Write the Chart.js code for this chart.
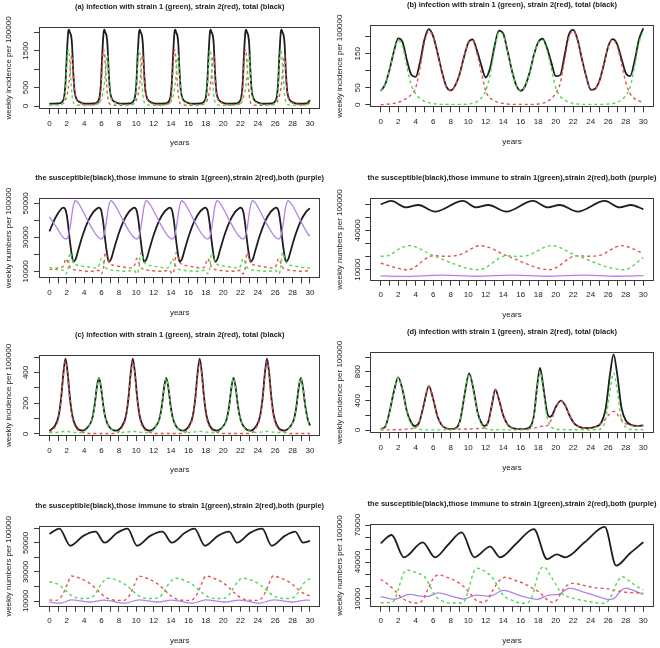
<!DOCTYPE html>
<html><head><meta charset="utf-8">
<script src="https://cdn.jsdelivr.net/npm/chart.js"></script>
<style>
html,body{margin:0;padding:0;background:#fff;}
#wrap{position:relative;width:660px;height:648px;overflow:hidden;background:#fff;}
#wrap canvas{position:absolute;}
</style>
</head><body>
<div id="wrap">
<canvas id="cA" width="330" height="162" style="left:0px;top:0px"></canvas>
<canvas id="cB" width="330" height="162" style="left:330px;top:0px"></canvas>
<canvas id="cSA" width="330" height="162" style="left:0px;top:162px"></canvas>
<canvas id="cSB" width="330" height="162" style="left:330px;top:162px"></canvas>
<canvas id="cC" width="330" height="162" style="left:0px;top:324px"></canvas>
<canvas id="cD" width="330" height="162" style="left:330px;top:324px"></canvas>
<canvas id="cSC" width="330" height="162" style="left:0px;top:486px"></canvas>
<canvas id="cSD" width="330" height="162" style="left:330px;top:486px"></canvas>
</div>
<script>
// ---------- shared x axis ----------
const xTicks = [0,1,2,3,4,5,6,7,8,9,10,11,12,13,14,15,16,17,18,19,20,21,22,23,24,25,26,27,28,29,30];
const xTickLabels = ['0','','2','','4','','6','','8','','10','','12','','14','','16','','18','','20','','22','','24','','26','','28','','30'];

// ---------- panel (a): incidence ----------
const yearsA = [0, 0.5,
 1.05, 1.45, 1.7, 1.85, 2.0, 2.15, 2.25, 2.35, 2.5, 2.6, 2.75, 2.9, 3.1, 3.55, 4.15,
 5.13, 5.53, 5.78, 5.93, 6.08, 6.23, 6.33, 6.43, 6.58, 6.68, 6.83, 6.98, 7.18, 7.63, 8.23,
 9.21, 9.61, 9.86, 10.01, 10.16, 10.31, 10.41, 10.51, 10.66, 10.76, 10.91, 11.06, 11.26, 11.71, 12.31,
 13.29, 13.69, 13.94, 14.09, 14.24, 14.39, 14.49, 14.59, 14.74, 14.84, 14.99, 15.14, 15.34, 15.79, 16.39,
 17.37, 17.77, 18.02, 18.17, 18.32, 18.47, 18.57, 18.67, 18.82, 18.92, 19.07, 19.22, 19.42, 19.87, 20.47,
 21.45, 21.85, 22.1, 22.25, 22.4, 22.55, 22.65, 22.75, 22.9, 23.0, 23.15, 23.3, 23.5, 23.95, 24.55,
 25.53, 25.93, 26.18, 26.33, 26.48, 26.63, 26.73, 26.83, 26.98, 27.08, 27.23, 27.38, 27.58, 28.03, 28.63,
 29.6, 30];
const strain1A = [25, 27,
 30, 55, 160, 450, 1100, 1530, 1450, 1150, 600, 300, 100, 50, 30, 22, 20,
 38, 55, 90, 160, 280, 450, 620, 850, 1300, 1380, 800, 350, 170, 80, 42,
 30, 55, 160, 450, 1100, 1530, 1450, 1150, 600, 300, 100, 50, 30, 22, 20,
 38, 55, 90, 160, 280, 450, 620, 850, 1300, 1380, 800, 350, 170, 80, 42,
 30, 55, 160, 450, 1100, 1530, 1450, 1150, 600, 300, 100, 50, 30, 22, 20,
 38, 55, 90, 160, 280, 450, 620, 850, 1300, 1380, 800, 350, 170, 80, 42,
 30, 55, 160, 450, 1100, 1530, 1450, 1150, 600, 300, 100, 50, 30, 22, 20,
 38, 70];
const strain2A = [35, 36,
 38, 55, 90, 160, 280, 450, 620, 850, 1300, 1380, 800, 350, 170, 80, 42,
 30, 55, 160, 450, 1100, 1530, 1450, 1150, 600, 300, 100, 50, 30, 22, 20,
 38, 55, 90, 160, 280, 450, 620, 850, 1300, 1380, 800, 350, 170, 80, 42,
 30, 55, 160, 450, 1100, 1530, 1450, 1150, 600, 300, 100, 50, 30, 22, 20,
 38, 55, 90, 160, 280, 450, 620, 850, 1300, 1380, 800, 350, 170, 80, 42,
 30, 55, 160, 450, 1100, 1530, 1450, 1150, 600, 300, 100, 50, 30, 22, 20,
 38, 55, 90, 160, 280, 450, 620, 850, 1300, 1380, 800, 350, 170, 80, 42,
 30, 90];
const totalA = [60, 63,
 68, 110, 250, 610, 1380, 1980, 2070, 2000, 1900, 1680, 900, 400, 200, 102, 62,
 68, 110, 250, 610, 1380, 1980, 2070, 2000, 1900, 1680, 900, 400, 200, 102, 62,
 68, 110, 250, 610, 1380, 1980, 2070, 2000, 1900, 1680, 900, 400, 200, 102, 62,
 68, 110, 250, 610, 1380, 1980, 2070, 2000, 1900, 1680, 900, 400, 200, 102, 62,
 68, 110, 250, 610, 1380, 1980, 2070, 2000, 1900, 1680, 900, 400, 200, 102, 62,
 68, 110, 250, 610, 1380, 1980, 2070, 2000, 1900, 1680, 900, 400, 200, 102, 62,
 68, 110, 250, 610, 1380, 1980, 2070, 2000, 1900, 1680, 900, 400, 200, 102, 62,
 68, 160];
const yTicksA = [0, 500, 1000, 1500, 2000];
const yLabelsA = ['0', '500', '', '1500', ''];

// ---------- panel (b): incidence ----------
const yearsB = [0,0.5,1,1.5,2,2.5,3,3.5,4,4.5,5,5.5,6,6.5,7,7.5,8,8.5,9,9.5,10,10.5,11,11.5,12,12.5,13,13.5,14,14.5,15,15.5,16,16.5,17,17.5,18,18.5,19,19.5,20,20.5,21,21.5,22,22.5,23,23.5,24,24.5,25,25.5,26,26.5,27,27.5,28,28.5,29,29.5,30];
const strain1B = [40,58,100,152,188,172,110,58,32,18,10,6,3,2,1,1,1,1,1,1,2,4,9,20,40,88,160,212,205,155,98,55,40,54,92,145,182,190,158,105,50,25,14,8,4,2,1,1,1,1,1,1,2,3,7,14,27,52,110,180,218];
const strain2B = [0,1,2,4,7,12,20,30,50,108,182,216,198,150,95,52,41,55,88,138,180,188,150,95,40,20,11,6,4,2,1,1,1,1,1,1,2,4,9,18,34,62,130,198,216,188,132,80,43,46,70,118,170,190,172,122,66,32,18,11,7];
const totalB = [40,59,102,156,195,184,130,88,82,126,192,222,201,152,96,53,42,56,89,139,182,192,159,115,80,108,171,218,209,157,99,56,41,55,93,146,184,194,167,123,84,87,144,206,220,190,133,81,44,47,71,119,172,193,179,136,93,84,128,191,225];
const yTicksB = [0, 50, 100, 150, 200];
const yLabelsB = ['0', '50', '', '150', ''];

// ---------- row 2 left: classes for (a) ----------
const yearsSA = [0, 0.8,
 1.6, 1.9, 2.15, 2.35, 2.55, 2.75, 3.0, 3.35, 3.85, 4.45, 5.05, 5.45,
 5.68, 5.98, 6.23, 6.43, 6.63, 6.83, 7.08, 7.43, 7.93, 8.53, 9.13, 9.53,
 9.76, 10.06, 10.31, 10.51, 10.71, 10.91, 11.16, 11.51, 12.01, 12.61, 13.21, 13.61,
 13.84, 14.14, 14.39, 14.59, 14.79, 14.99, 15.24, 15.59, 16.09, 16.69, 17.29, 17.69,
 17.92, 18.22, 18.47, 18.67, 18.87, 19.07, 19.32, 19.67, 20.17, 20.77, 21.37, 21.77,
 22.0, 22.3, 22.55, 22.75, 22.95, 23.15, 23.4, 23.75, 24.25, 24.85, 25.45, 25.85,
 26.08, 26.38, 26.63, 26.83, 27.03, 27.23, 27.48, 27.83, 28.33, 28.93, 29.53, 29.93,
 30];
const suscSA = [33500, 42500,
 47500, 45500, 37500, 28000, 20500, 15600, 17000, 23000, 31500, 39500, 44800, 46800,
 47500, 45500, 37500, 28000, 20500, 15600, 17000, 23000, 31500, 39500, 44800, 46800,
 47500, 45500, 37500, 28000, 20500, 15600, 17000, 23000, 31500, 39500, 44800, 46800,
 47500, 45500, 37500, 28000, 20500, 15600, 17000, 23000, 31500, 39500, 44800, 46800,
 47500, 45500, 37500, 28000, 20500, 15600, 17000, 23000, 31500, 39500, 44800, 46800,
 47500, 45500, 37500, 28000, 20500, 15600, 17000, 23000, 31500, 39500, 44800, 46800,
 47500, 45500, 37500, 28000, 20500, 15600, 17000, 23000, 31500, 39500, 44800, 46800,
 47000];
const bothSA = [42000, 36000,
 29800, 29000, 30500, 35000, 42000, 48500, 51500, 50000, 45500, 39500, 34000, 31000,
 29800, 29000, 30500, 35000, 42000, 48500, 51500, 50000, 45500, 39500, 34000, 31000,
 29800, 29000, 30500, 35000, 42000, 48500, 51500, 50000, 45500, 39500, 34000, 31000,
 29800, 29000, 30500, 35000, 42000, 48500, 51500, 50000, 45500, 39500, 34000, 31000,
 29800, 29000, 30500, 35000, 42000, 48500, 51500, 50000, 45500, 39500, 34000, 31000,
 29800, 29000, 30500, 35000, 42000, 48500, 51500, 50000, 45500, 39500, 34000, 31000,
 29800, 29000, 30500, 35000, 42000, 48500, 51500, 50000, 45500, 39500, 34000, 31000,
 31500];
const imm1SA = [12500, 11000,
 10500, 8500, 12000, 21000, 18500, 15500, 14000, 13500, 13000, 12500, 12000, 12000,
 13000, 17500, 15000, 12500, 11500, 11000, 10800, 10500, 10300, 10000, 10200, 10500,
 10500, 8500, 12000, 21000, 18500, 15500, 14000, 13500, 13000, 12500, 12000, 12000,
 13000, 17500, 15000, 12500, 11500, 11000, 10800, 10500, 10300, 10000, 10200, 10500,
 10500, 8500, 12000, 21000, 18500, 15500, 14000, 13500, 13000, 12500, 12000, 12000,
 13000, 17500, 15000, 12500, 11500, 11000, 10800, 10500, 10300, 10000, 10200, 10500,
 10500, 8500, 12000, 21000, 18500, 15500, 14000, 13500, 13000, 12500, 12000, 12000,
 12200];
const imm2SA = [11000, 11800,
 13000, 17500, 15000, 12500, 11500, 11000, 10800, 10500, 10300, 10000, 10200, 10500,
 10500, 8500, 12000, 21000, 18500, 15500, 14000, 13500, 13000, 12500, 12000, 12000,
 13000, 17500, 15000, 12500, 11500, 11000, 10800, 10500, 10300, 10000, 10200, 10500,
 10500, 8500, 12000, 21000, 18500, 15500, 14000, 13500, 13000, 12500, 12000, 12000,
 13000, 17500, 15000, 12500, 11500, 11000, 10800, 10500, 10300, 10000, 10200, 10500,
 10500, 8500, 12000, 21000, 18500, 15500, 14000, 13500, 13000, 12500, 12000, 12000,
 13000, 17500, 15000, 12500, 11500, 11000, 10800, 10500, 10300, 10000, 10200, 10500,
 10500];
const yTicksSA = [10000, 20000, 30000, 40000, 50000];
const yLabelsSA = ['10000', '', '30000', '', '50000'];

// ---------- row 2 right: classes for (b) ----------
const yearsSuscSB = [0, 1.2, 2.9, 4.3, 6.2, 9.4, 10.9, 12.3, 14.35, 17.4, 19.1, 20.45, 22.5, 25.6, 27.3, 28.6, 30];
const suscSB = [60000, 62600, 57700, 59500, 54400, 62600, 57700, 59500, 54400, 62600, 57700, 59500, 54400, 62600, 57700, 59500, 56200];
const yearsImm1SB = [0, 0.8, 2.0, 3.3, 6.0, 11.2, 14.4, 15.5, 16.8, 19.5, 22.4, 27.8, 30];
const imm1SB = [20300, 20600, 25500, 28400, 20800, 10000, 20700, 20200, 21000, 28400, 20700, 10000, 19200];
const yearsImm2SB = [0, 3.1, 6.0, 7.2, 8.8, 11.4, 14.4, 19.3, 22.4, 23.6, 25.0, 27.5, 30];
const imm2SB = [14900, 10000, 20700, 20300, 21000, 28400, 20700, 10000, 20700, 20300, 21000, 28400, 22500];
const yearsBothSB = [0, 2.5, 7.0, 11, 15, 19, 23.2, 27, 30];
const bothSB = [5200, 4900, 5800, 5000, 5800, 5000, 5800, 5000, 5400];
const yTicksSB = [10000, 20000, 30000, 40000, 50000, 60000];
const yLabelsSB = ['10000', '', '', '40000', '', ''];

// ---------- panel (c): incidence ----------
const yearsC = [0,
 0.65, 1.05, 1.35, 1.6, 1.85, 2.1, 2.35, 2.65, 3.05, 3.78,
 4.5, 4.9, 5.2, 5.45, 5.7, 5.95, 6.2, 6.5, 6.9, 7.65,
 8.4, 8.8, 9.1, 9.35, 9.6, 9.85, 10.1, 10.4, 10.8, 11.52,
 12.25, 12.65, 12.95, 13.2, 13.45, 13.7, 13.95, 14.25, 14.65, 15.38,
 16.1, 16.5, 16.8, 17.05, 17.3, 17.55, 17.8, 18.1, 18.5, 19.25,
 20.0, 20.4, 20.7, 20.95, 21.2, 21.45, 21.7, 22.0, 22.4, 23.12,
 23.85, 24.25, 24.55, 24.8, 25.05, 25.3, 25.55, 25.85, 26.25, 27.0,
 27.75, 28.15, 28.45, 28.7, 28.95, 29.2, 29.45, 29.75, 30];
const totalC = [20,
 55, 115, 235, 390, 490, 395, 240, 115, 50, 22,
 50, 95, 185, 300, 365, 300, 185, 95, 45, 21,
 55, 115, 235, 390, 490, 395, 240, 115, 50, 22,
 50, 95, 185, 300, 365, 300, 185, 95, 45, 21,
 55, 115, 235, 390, 490, 395, 240, 115, 50, 22,
 50, 95, 185, 300, 365, 300, 185, 95, 45, 21,
 55, 115, 235, 390, 490, 395, 240, 115, 50, 22,
 50, 95, 185, 300, 365, 300, 185, 95, 55];
const strain1C = [10,
 10, 12, 14, 16, 17, 16, 14, 12, 10, 9,
 47, 92, 182, 297, 362, 297, 182, 92, 42, 17,
 10, 12, 14, 16, 17, 16, 14, 12, 10, 9,
 47, 92, 182, 297, 362, 297, 182, 92, 42, 17,
 10, 12, 14, 16, 17, 16, 14, 12, 10, 9,
 47, 92, 182, 297, 362, 297, 182, 92, 42, 17,
 10, 12, 14, 16, 17, 16, 14, 12, 10, 9,
 47, 92, 182, 297, 362, 297, 182, 92, 52];
const strain2C = [10,
 45, 103, 221, 374, 473, 379, 226, 103, 40, 13,
 3, 3, 3, 3, 3, 3, 3, 3, 3, 4,
 45, 103, 221, 374, 473, 379, 226, 103, 40, 13,
 3, 3, 3, 3, 3, 3, 3, 3, 3, 4,
 45, 103, 221, 374, 473, 379, 226, 103, 40, 13,
 3, 3, 3, 3, 3, 3, 3, 3, 3, 4,
 45, 103, 221, 374, 473, 379, 226, 103, 40, 13,
 3, 3, 3, 3, 3, 3, 3, 3, 3];
const yTicksC = [0, 100, 200, 300, 400, 500];
const yLabelsC = ['0', '', '200', '', '400', ''];

// ---------- panel (d): incidence ----------
const yearsTotalD = [0, 0.5, 1.0, 1.5, 2.0, 2.5, 3.0, 3.5, 3.9, 4.4, 4.9, 5.5, 6.0, 6.5, 7.0, 7.5, 8.0, 8.6, 9.1, 9.6, 10.1, 10.6, 11.1, 11.6, 11.9, 12.3, 12.7, 13.1, 13.5, 14.0, 14.5, 15.0, 15.7, 16.5, 17.0, 17.5, 17.9, 18.2, 18.55, 19.0, 19.3, 19.6, 20.0, 20.6, 21.1, 21.6, 22.1, 22.7, 23.5, 24.5, 25.2, 25.7, 26.2, 26.6, 27.0, 27.5, 28.0, 28.6, 29.3, 30];
const totalD = [17, 42, 244, 524, 721, 547, 252, 100, 53, 105, 333, 602, 422, 182, 62, 24, 13, 27, 144, 496, 776, 556, 226, 77, 57, 118, 343, 555, 421, 201, 76, 29, 12, 16, 34, 195, 630, 852, 615, 245, 180, 205, 315, 402, 332, 192, 92, 43, 25, 43, 100, 290, 765, 1036, 780, 310, 130, 71, 58, 63];
const yearsS1D = [0, 0.5, 1.0, 1.5, 2.0, 2.5, 3.0, 3.5, 4.0, 4.5, 5.5, 8.0, 8.6, 9.1, 9.6, 10.1, 10.6, 11.1, 11.6, 11.9, 12.4, 13.0, 16.5, 17.0, 17.5, 17.9, 18.2, 18.55, 19.0, 19.4, 20.0, 20.7, 24.5, 25.2, 25.7, 26.2, 26.6, 27.0, 27.5, 28.0, 28.6, 30];
const strain1D = [15, 40, 240, 520, 713, 540, 240, 80, 25, 8, 2, 2, 15, 130, 480, 760, 540, 210, 55, 25, 8, 3, 2, 15, 170, 590, 805, 560, 180, 55, 15, 5, 3, 20, 150, 540, 781, 560, 150, 40, 8, 3];
const yearsS2D = [0, 2.0, 3.0, 3.9, 4.4, 4.9, 5.5, 6.0, 6.5, 7.0, 7.5, 8.2, 9.5, 10.5, 11.3, 11.9, 12.3, 12.7, 13.1, 13.5, 14.0, 14.5, 15.0, 15.7, 16.5, 17.5, 18.3, 19.0, 19.5, 20.0, 20.6, 21.1, 21.6, 22.1, 22.7, 23.5, 24.5, 25.3, 26.0, 26.6, 27.2, 27.8, 28.5, 29.3, 30];
const strain2D = [2, 4, 12, 28, 100, 330, 600, 420, 180, 60, 22, 10, 12, 16, 22, 32, 110, 340, 552, 420, 200, 75, 28, 10, 14, 25, 50, 60, 140, 300, 397, 330, 190, 90, 40, 22, 40, 100, 200, 255, 190, 100, 65, 55, 60];
const yTicksD = [0, 200, 400, 600, 800, 1000];
const yLabelsD = ['0', '', '400', '', '800', ''];

// ---------- row 4 left: classes for (c) ----------
const yearsSuscSC = [0, 1.15, 2.4, 3.9, 5.3, 6.35, 7.8, 9.0, 10.1, 11.6, 13.0, 14.1, 15.6, 16.7, 17.9, 19.4, 20.7, 21.6, 23.1, 24.5, 25.6, 27.1, 28.3, 29.2, 30];
const suscSC = [56200, 59900, 48100, 54900, 57800, 50200, 57000, 59900, 48100, 54900, 57800, 50200, 57000, 59900, 48100, 54900, 57800, 50200, 57000, 59900, 48100, 54900, 57800, 50200, 51400];
const yearsImm1SC = [0, 1.0, 1.8, 2.6, 3.3, 4.0, 4.5, 5.0, 5.5, 6.0, 6.75, 7.7, 8.7, 9.5, 10.3, 11.0, 11.7, 12.25, 12.75, 13.25, 13.75, 14.5, 15.45, 16.45, 17.25, 18.05, 18.75, 19.45, 20.0, 20.5, 21.0, 21.5, 22.25, 23.2, 24.2, 25.0, 25.8, 26.5, 27.2, 27.75, 28.25, 28.75, 29.25, 30];
const imm1SC = [23300, 21500, 17500, 13500, 12000, 11700, 11800, 13000, 17000, 22000, 25700, 24500, 21500, 17500, 13500, 12000, 11700, 11800, 13000, 17000, 22000, 25700, 24500, 21500, 17500, 13500, 12000, 11700, 11800, 13000, 17000, 22000, 25700, 24500, 21500, 17500, 13500, 12000, 11700, 11800, 13000, 17000, 22000, 25500];
const yearsImm2SC = [0, 0.75, 1.25, 1.65, 2.05, 2.55, 3.55, 4.55, 5.35, 6.15, 6.85, 7.65, 8.5, 9.0, 9.4, 9.8, 10.3, 11.3, 12.3, 13.1, 13.9, 14.6, 15.4, 16.2, 16.7, 17.1, 17.5, 18.0, 19.0, 20.0, 20.8, 21.6, 22.3, 23.1, 23.95, 24.45, 24.85, 25.25, 25.75, 26.75, 27.75, 28.55, 29.35, 30];
const imm2SC = [10700, 10400, 12000, 16000, 21500, 27200, 25500, 22500, 18500, 14000, 11500, 10500, 10400, 12000, 16000, 21500, 27200, 25500, 22500, 18500, 14000, 11500, 10500, 10400, 12000, 16000, 21500, 27200, 25500, 22500, 18500, 14000, 11500, 10500, 10400, 12000, 16000, 21500, 27200, 25500, 22500, 18500, 15000, 13500];
const yearsBothSC = [0, 1.3, 2.5, 4.6, 6.3, 8.7, 10.3, 12.4, 14.1, 16.5, 18.0, 20.1, 21.9, 24.2, 25.8, 27.9, 29.6, 30];
const bothSC = [9200, 8500, 10800, 9300, 10600, 8500, 10800, 9300, 10600, 8500, 10800, 9300, 10600, 8500, 10800, 9300, 10600, 10500];
const yTicksSC = [10000, 20000, 30000, 40000, 50000, 60000];
const yLabelsSC = ['10000', '', '30000', '', '50000', ''];

// ---------- row 4 right: classes for (d) ----------
const yearsSuscSD = [0, 1.25, 2.65, 4.8, 6.2, 7.7, 9.25, 10.7, 12.5, 13.65, 15.5, 17.5, 19.0, 20.1, 21.1, 23.3, 25.6, 26.9, 28.4, 30];
const suscSD = [55200, 61900, 43800, 56000, 43800, 54000, 64000, 43800, 52500, 43800, 55000, 66700, 42400, 46200, 43800, 56000, 68500, 37000, 46500, 56000];
const yearsImm1SD = [0, 1.0, 1.6, 2.1, 2.6, 3.0, 4.0, 5.0, 5.6, 6.2, 7.0, 8.0, 9.3, 9.7, 10.2, 10.6, 11.0, 12.0, 12.8, 13.4, 14.0, 15.0, 16.2, 16.9, 17.4, 17.9, 18.4, 18.7, 19.3, 20.0, 20.6, 21.5, 23.0, 24.5, 25.4, 26.0, 26.5, 27.0, 27.6, 28.5, 29.3, 30];
const imm1SD = [7000, 7200, 9500, 20000, 30500, 33500, 31500, 28000, 21000, 13000, 8500, 6700, 6800, 10000, 22000, 31500, 34900, 32000, 27000, 20000, 13000, 9000, 6500, 7500, 14000, 28000, 35500, 36000, 30000, 22000, 15000, 11500, 9000, 7000, 6500, 8500, 15000, 23500, 28100, 24000, 20000, 17500];
const yearsImm2SD = [0, 0.8, 1.6, 2.4, 3.2, 4.2, 4.8, 5.4, 6.0, 6.6, 7.6, 8.6, 9.5, 10.2, 10.9, 11.6, 12.2, 12.8, 13.5, 14.2, 15.2, 16.3, 17.3, 18.2, 19.0, 19.6, 20.1, 20.6, 21.2, 22.0, 23.2, 24.6, 26.0, 26.8, 27.5, 28.5, 30];
const imm2SD = [26000, 22000, 17000, 11000, 7800, 6700, 9000, 18000, 26500, 29500, 27500, 24500, 20000, 14500, 9000, 7200, 9500, 17000, 24500, 27600, 25500, 22700, 19000, 15000, 9500, 7300, 9000, 15000, 20500, 22700, 21000, 19000, 18200, 17000, 16000, 15200, 14800];
const yearsBothSD = [0, 1.6, 3.3, 4.6, 5.4, 6.5, 8.0, 9.5, 10.9, 12.5, 14.0, 16.0, 17.9, 19.2, 20.3, 21.6, 23.0, 24.5, 26.1, 26.7, 27.4, 28.0, 29.0, 30];
const bothSD = [11900, 9800, 13700, 12300, 12100, 15000, 12500, 10000, 13200, 12300, 17000, 12500, 9700, 13200, 13700, 18800, 16000, 12800, 9700, 10500, 16500, 18800, 16500, 13800];
const yTicksSD = [10000, 20000, 30000, 40000, 50000, 60000, 70000];
const yLabelsSD = ['10000', '', '', '40000', '', '', '70000'];

// ---------- texts ----------
const titleInf = s => s + ' infection with strain 1 (green), strain 2(red), total (black)';
const titleClasses = 'the susceptible(black),those immune to strain 1(green),strain 2(red),both (purple)';
const ylabInc = 'weekly incidence per 100000';
const ylabNum = 'weekly numbers per 100000';

// ---------- styling ----------
const FONT = '"Liberation Sans", Arial, Helvetica, sans-serif';
const BLACK = '#1e1e1e', GREEN = '#52d852', RED = '#e65252', PURPLE = '#b283e4', AXIS = '#3a3a3a', TEXT = '#1a1a1a';

function series(xs, ys, color, dashed, width) {
  return {
    data: xs.map((x, i) => ({ x: x, y: ys[i] })),
    borderColor: color, borderWidth: width,
    borderDash: dashed ? [3, 3] : [],
    pointRadius: 0, fill: false, cubicInterpolationMode: 'monotone'
  };
}

function framePlugin(p) {
  return {
    id: 'rframe',
    afterDraw(chart) {
      const ctx = chart.ctx, a = chart.chartArea, xs = chart.scales.x, ys = chart.scales.y;
      ctx.save();
      ctx.setLineDash([]);
      ctx.strokeStyle = AXIS; ctx.lineWidth = 1;
      const l = Math.round(a.left) + 0.5, t = Math.round(a.top) + 0.5;
      const r = Math.round(a.right) - 0.5, b = Math.round(a.bottom) - 0.5;
      ctx.strokeRect(l, t, r - l, b - t);
      ctx.fillStyle = TEXT;
      ctx.textAlign = 'center'; ctx.textBaseline = 'middle';
      ctx.font = '8px ' + FONT;
      xTicks.forEach((v, i) => {
        if (xTickLabels[i]) ctx.fillText(xTickLabels[i], xs.getPixelForValue(v), a.bottom + 14.5);
      });
      p.yTicks.forEach((v, i) => {
        if (!p.yLabels[i]) return;
        ctx.save();
        ctx.translate(a.left - p.yLabOff, ys.getPixelForValue(v));
        ctx.rotate(-Math.PI / 2);
        ctx.fillText(p.yLabels[i], 0, 0);
        ctx.restore();
      });
      ctx.fillText('years', (a.left + a.right) / 2, a.bottom + 34);
      ctx.save();
      ctx.translate(a.left - 30, (a.top + a.bottom) / 2);
      ctx.rotate(-Math.PI / 2);
      ctx.fillText(p.ylab, 0, 0);
      ctx.restore();
      ctx.font = 'bold 7.5px ' + FONT;
      ctx.fillText(p.title, (a.left + a.right) / 2, a.top - 20);
      ctx.restore();
    }
  };
}

function makePanel(p) {
  const W = 330, H = 162;
  new Chart(document.getElementById(p.id), {
    type: 'line',
    data: { datasets: p.datasets },
    options: {
      responsive: false, animation: false, events: [],
      layout: { padding: { left: p.box[0], top: p.box[1], right: W - p.box[2], bottom: H - p.box[3] } },
      plugins: { legend: { display: false }, tooltip: { enabled: false }, title: { display: false } },
      scales: {
        x: {
          type: 'linear', min: -1.2, max: 31.2,
          afterBuildTicks: s => { s.ticks = xTicks.map(v => ({ value: v })); },
          afterFit: s => { s.height = 0; },
          ticks: { display: false },
          grid: { drawOnChartArea: false, drawTicks: true, tickLength: 5, color: AXIS, lineWidth: 1 },
          border: { display: false }
        },
        y: {
          type: 'linear', min: p.yMin, max: p.yMax,
          afterBuildTicks: s => { s.ticks = p.yTicks.map(v => ({ value: v })); },
          afterFit: s => { s.width = 0; },
          ticks: { display: false },
          grid: { drawOnChartArea: false, drawTicks: true, tickLength: 5, color: AXIS, lineWidth: 1 },
          border: { display: false }
        }
      }
    },
    plugins: [framePlugin(p)]
  });
}

const LBOX = [39, 320.4], RBOX = [40.2, 323.8];
const panels = [
  { id: 'cA', box: [LBOX[0], 27, LBOX[1], 109], yMin: -81, yMax: 2144, yTicks: yTicksA, yLabels: yLabelsA, yLabOff: 13,
    title: titleInf('(a)'), ylab: ylabInc,
    datasets: [series(yearsA, strain1A, GREEN, true, 1.4), series(yearsA, strain2A, RED, true, 1.4), series(yearsA, totalA, BLACK, false, 1.8)] },
  { id: 'cB', box: [RBOX[0], 25, RBOX[1], 107.3], yMin: -7.6, yMax: 234.4, yTicks: yTicksB, yLabels: yLabelsB, yLabOff: 12,
    title: titleInf('(b)'), ylab: ylabInc,
    datasets: [series(yearsB, strain1B, GREEN, true, 1.4), series(yearsB, strain2B, RED, true, 1.4), series(yearsB, totalB, BLACK, false, 1.8)] },
  { id: 'cSA', box: [LBOX[0], 35.7, LBOX[1], 116.3], yMin: 5882, yMax: 53294, yTicks: yTicksSA, yLabels: yLabelsSA, yLabOff: 13,
    title: titleClasses, ylab: ylabNum,
    datasets: [series(yearsSA, imm1SA, GREEN, true, 1.4), series(yearsSA, imm2SA, RED, true, 1.4), series(yearsSA, bothSA, PURPLE, false, 1.3), series(yearsSA, suscSA, BLACK, false, 1.8)] },
  { id: 'cSB', box: [RBOX[0], 36.3, RBOX[1], 118.7], yMin: 1584, yMax: 64629, yTicks: yTicksSB, yLabels: yLabelsSB, yLabOff: 12,
    title: titleClasses, ylab: ylabNum,
    datasets: [series(yearsImm1SB, imm1SB, GREEN, true, 1.4), series(yearsImm2SB, imm2SB, RED, true, 1.4), series(yearsBothSB, bothSB, PURPLE, false, 1.3), series(yearsSuscSB, suscSB, BLACK, false, 1.8)] },
  { id: 'cC', box: [LBOX[0], 31, LBOX[1], 112], yMin: -13, yMax: 513, yTicks: yTicksC, yLabels: yLabelsC, yLabOff: 13,
    title: titleInf('(c)'), ylab: ylabInc,
    datasets: [series(yearsC, strain1C, GREEN, true, 1.4), series(yearsC, strain2C, RED, true, 1.4), series(yearsC, totalC, BLACK, false, 1.8)] },
  { id: 'cD', box: [RBOX[0], 27.7, RBOX[1], 109.3], yMin: -45, yMax: 1073, yTicks: yTicksD, yLabels: yLabelsD, yLabOff: 12,
    title: titleInf('(d)'), ylab: ylabInc,
    datasets: [series(yearsS1D, strain1D, GREEN, true, 1.4), series(yearsS2D, strain2D, RED, true, 1.4), series(yearsTotalD, totalD, BLACK, false, 1.8)] },
  { id: 'cSC', box: [LBOX[0], 40, LBOX[1], 120.7], yMin: 6069, yMax: 61724, yTicks: yTicksSC, yLabels: yLabelsSC, yLabOff: 13,
    title: titleClasses, ylab: ylabNum,
    datasets: [series(yearsImm1SC, imm1SC, GREEN, true, 1.4), series(yearsImm2SC, imm2SC, RED, true, 1.4), series(yearsBothSC, bothSC, PURPLE, false, 1.3), series(yearsSuscSC, suscSC, BLACK, false, 1.8)] },
  { id: 'cSD', box: [RBOX[0], 38.3, RBOX[1], 120.7], yMin: 3755, yMax: 70584, yTicks: yTicksSD, yLabels: yLabelsSD, yLabOff: 12,
    title: titleClasses, ylab: ylabNum,
    datasets: [series(yearsImm1SD, imm1SD, GREEN, true, 1.4), series(yearsImm2SD, imm2SD, RED, true, 1.4), series(yearsBothSD, bothSD, PURPLE, false, 1.3), series(yearsSuscSD, suscSD, BLACK, false, 1.8)] }
];
panels.forEach(makePanel);
</script>
</body></html>
